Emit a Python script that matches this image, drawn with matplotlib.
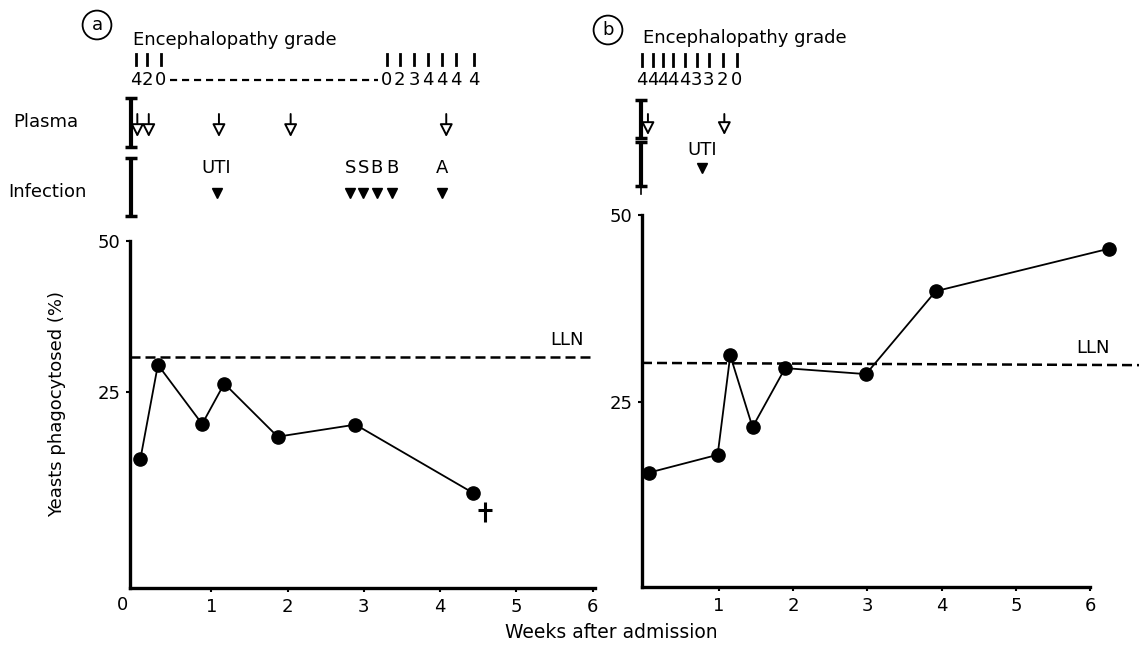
import matplotlib.pyplot as plt
from matplotlib.transforms import blended_transform_factory
from matplotlib.path import Path

W, H = 1139, 649

# panel a: yeasts phagocytosed (%) by week
weeks_a = [0.07, 0.30, 0.88, 1.17, 1.87, 2.89, 4.43]
yeasts_a = [13.9, 29.5, 19.7, 26.4, 17.6, 19.6, 8.3]
death_week_a = 4.59
death_val_a = 5.1
lln_a = 30.8

# panel b
weeks_b = [0.05, 0.98, 1.15, 1.45, 1.89, 2.98, 3.92, 6.26]
yeasts_b = [15.5, 17.9, 31.2, 21.6, 29.5, 28.7, 39.8, 45.5]
lln_b = [30.2, 29.9]
lln_b_weeks = [-0.04, 6.68]

# encephalopathy grades
grade_weeks_a = [0.01, 0.16, 0.34, 3.30, 3.47, 3.66, 3.84, 4.02, 4.21, 4.44]
grade_a = ['4', '2', '0', '0', '2', '3', '4', '4', '4', '4']
grade_gap_a = [0.46, 3.18]
grade_weeks_b = [-0.04, 0.11, 0.24, 0.38, 0.54, 0.70, 0.86, 1.05, 1.24]
grade_b = ['4', '4', '4', '4', '4', '3', '3', '2', '0']

# plasma and infection events
plasma_a = [0.03, 0.18, 1.10, 2.04, 4.08]
infection_a = [1.07, 2.82, 2.99, 3.17, 3.37, 4.02]
infection_lab_a = ['UTI', 'S', 'S', 'B', 'B', 'A']
plasma_b = [0.04, 1.07]
infection_b = [0.77]
infection_lab_b = ['UTI']

FS = 13


def fy(p):
    return 1 - p / H


fig = plt.figure(figsize=(W / 100, H / 100), dpi=100)
axa = fig.add_axes([130 / W, fy(588), 465 / W, 347 / H])
axb = fig.add_axes([642 / W, fy(587), 448 / W, 372 / H])

for ax in (axa, axb):
    for s in ('top', 'right'):
        ax.spines[s].set_visible(False)
    for s in ('left', 'bottom'):
        ax.spines[s].set_linewidth(2.4)
    ax.set_xticks([1, 2, 3, 4, 5, 6])
    ax.set_yticks([25, 50])
    ax.tick_params(direction='out', length=3, width=1.5, labelsize=FS, pad=4)
    ax.set_facecolor('none')

# main series
axa.plot(weeks_a, yeasts_a, '-o', color='k', lw=1.3, ms=9.5, clip_on=False)
axa.axhline(lln_a, color='k', lw=1.8, ls=(0, (4, 2)))
axa.text(5.66, 33.6, 'LLN', ha='center', va='center', fontsize=FS)
dagger = Path([(0, 1), (0, -1), (-0.7, 0.2), (0.7, 0.2)],
              [Path.MOVETO, Path.LINETO, Path.MOVETO, Path.LINETO])
axa.plot([death_week_a], [death_val_a], marker=dagger, ms=15, mew=2.2,
         color='k', ls='none', clip_on=False)
axa.text(-0.016, -0.049, '0', transform=axa.transAxes, ha='center', va='center', fontsize=FS)

axb.plot(weeks_b, yeasts_b, '-o', color='k', lw=1.3, ms=9.5, clip_on=False)
axb.plot(lln_b_weeks, lln_b, color='k', lw=1.8, ls=(0, (4, 2)), clip_on=False)
axb.text(6.04, 32.2, 'LLN', ha='center', va='center', fontsize=FS)

# top event strips
def strip(ax, gw, gl, pw, iw, il, g):
    tr = blended_transform_factory(ax.transData, fig.transFigure)
    for w, l in zip(gw, gl):
        ax.plot([w, w], [fy(g['tick'][0]), fy(g['tick'][1])], transform=tr,
                color='k', lw=2, clip_on=False)
        ax.text(w, fy(g['lab']), l, transform=tr, ha='center', va='center', fontsize=FS)
    for w in pw:
        ax.annotate('', xy=(w, fy(g['arr'][1])), xycoords=tr,
                    xytext=(w, fy(g['arr'][0])), textcoords=tr,
                    arrowprops=dict(arrowstyle='-|>,head_length=0.55,head_width=0.28',
                                    fc='white', ec='k', lw=1.4, mutation_scale=14,
                                    shrinkA=0, shrinkB=0),
                    annotation_clip=False)
    for w, l in zip(iw, il):
        ax.plot([w], [fy(g['tri'])], 'v', color='k', ms=7.5, transform=tr, clip_on=False)
        ax.text(w, fy(g['ilab']), l, transform=tr, ha='center', va='center', fontsize=FS)


strip(axa, grade_weeks_a, grade_a, plasma_a, infection_a, infection_lab_a,
      dict(tick=(65, 54), lab=80, arr=(114, 137), tri=193, ilab=168))
strip(axb, grade_weeks_b, grade_b, plasma_b, infection_b, infection_lab_b,
      dict(tick=(66, 54), lab=80, arr=(114, 135), tri=168, ilab=150))

tra = blended_transform_factory(axa.transData, fig.transFigure)
axa.plot(grade_gap_a, [fy(80), fy(80)], transform=tra, color='k', lw=1.6,
         ls=(0, (3.2, 2.2)), clip_on=False)


def ibar(x, y0, y1):
    fig.lines.append(plt.Line2D([x / W, x / W], [fy(y0), fy(y1)], transform=fig.transFigure,
                                color='k', lw=3, solid_capstyle='butt'))
    fig.lines.append(plt.Line2D([x / W, x / W], [fy(y0), fy(y1)], transform=fig.transFigure,
                                color='k', ls='none', marker='_', ms=8, mew=2.5))


ibar(131, 98, 147)
ibar(131, 158, 216)
ibar(641, 100, 138)
ibar(641, 142, 186)
fig.lines.append(plt.Line2D([641 / W, 641 / W], [fy(186), fy(194)], transform=fig.transFigure,
                            color='k', lw=1.2))

fig.text(13 / W, fy(122), 'Plasma', ha='left', va='center', fontsize=FS)
fig.text(8 / W, fy(192), 'Infection', ha='left', va='center', fontsize=FS)
fig.text(133 / W, fy(40), 'Encephalopathy grade', ha='left', va='center', fontsize=FS)
fig.text(643 / W, fy(38), 'Encephalopathy grade', ha='left', va='center', fontsize=FS)
for cx, cy, l in ((97, 25, 'a'), (608, 30, 'b')):
    fig.text(cx / W, fy(cy), l, ha='center', va='center', fontsize=FS,
             bbox=dict(boxstyle='circle,pad=0.3', fc='white', ec='k', lw=1.3))

fig.text(57 / W, fy(404), 'Yeasts phagocytosed (%)', rotation=90,
         ha='center', va='center', fontsize=FS)
fig.text(611 / W, fy(632), 'Weeks after admission', ha='center', va='center',
         fontsize=13.5)

axa.set_xlim(-0.066, 6.03)
axa.set_ylim(-7.45, 50)
axb.set_xlim(-0.04, 6.0)
axb.set_ylim(0.2, 50)

fig.savefig('out.png', dpi=100)
